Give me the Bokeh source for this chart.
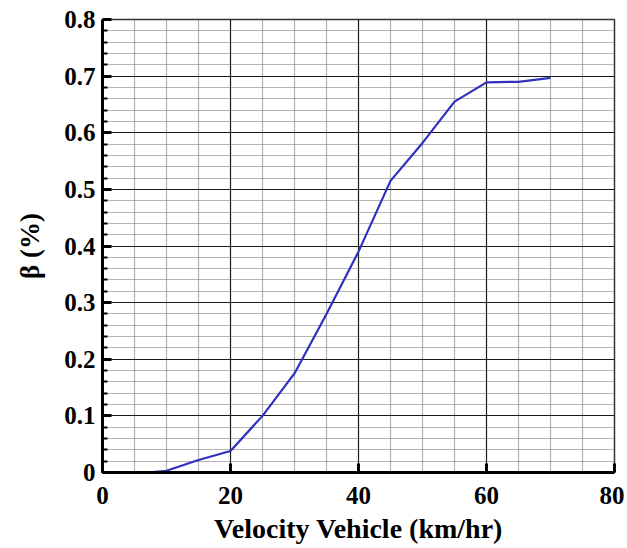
from bokeh.plotting import figure
from bokeh.models import Range1d, FixedTicker
from bokeh.embed import file_html
from bokeh.resources import INLINE

velocity = [7, 10, 15, 20, 25, 30, 35, 40, 45, 50, 55, 60, 65, 70]
beta = [0.0, 0.003, 0.022, 0.038, 0.10, 0.175, 0.28, 0.39, 0.515, 0.582, 0.655, 0.689, 0.690, 0.697]

x_major = [0, 20, 40, 60, 80]
x_minor = [5, 10, 15, 25, 30, 35, 45, 50, 55, 65, 70, 75]
y_major = [0, 0.1, 0.2, 0.3, 0.4, 0.5, 0.6, 0.7, 0.8]
y_minor = [round(i * 0.02, 2) for i in range(41) if i % 5 != 0]

FONT = "Liberation Serif"

p = figure(width=624, height=546, output_backend="svg", toolbar_location=None,
           x_range=Range1d(0, 80), y_range=Range1d(0, 0.8),
           min_border_left=102, min_border_right=10, min_border_top=19, min_border_bottom=71)

p.xaxis.ticker = FixedTicker(ticks=x_major, minor_ticks=x_minor)
p.yaxis.ticker = FixedTicker(ticks=y_major, minor_ticks=y_minor)
p.yaxis.major_label_overrides = {0: "0"}

for ax in (p.xaxis, p.yaxis):
    ax.axis_line_color = "black"
    ax.axis_line_width = 3
    ax.major_tick_in = 9
    ax.major_tick_out = 0
    ax.major_tick_line_width = 3
    ax.major_tick_line_color = "black"
    ax.major_label_text_font = FONT
    ax.major_label_text_font_style = "bold"
    ax.major_label_text_font_size = "25px"
    ax.major_label_text_color = "black"
    ax.axis_label_text_font = FONT
    ax.axis_label_text_font_style = "bold"
    ax.axis_label_text_color = "black"
p.xaxis.major_label_standoff = 10
p.yaxis.major_label_standoff = 7
p.xaxis.minor_tick_line_color = None
p.yaxis.minor_tick_in = 5
p.yaxis.minor_tick_out = 0
p.yaxis.minor_tick_line_width = 2
p.yaxis.minor_tick_line_color = "black"

p.xaxis.axis_label = "Velocity Vehicle (km/hr)"
p.xaxis.axis_label_text_font_size = "28px"
p.xaxis.axis_label_standoff = 6

p.yaxis.axis_label = "β (%)"
p.yaxis.axis_label_text_font_size = "27px"
p.yaxis.axis_label_standoff = 16

for g in (p.xgrid, p.ygrid):
    g.grid_line_color = "#1a1a1a"
    g.grid_line_width = 1.2
    g.minor_grid_line_color = "#6a6a6a"
    g.minor_grid_line_dash = "1 1"
    g.minor_grid_line_width = 1.2

p.outline_line_color = "#333333"
p.outline_line_width = 1.5

p.line(velocity, beta, line_color="#3030c0", line_width=2.2)

open("out.html", "w").write(file_html(p, INLINE))
